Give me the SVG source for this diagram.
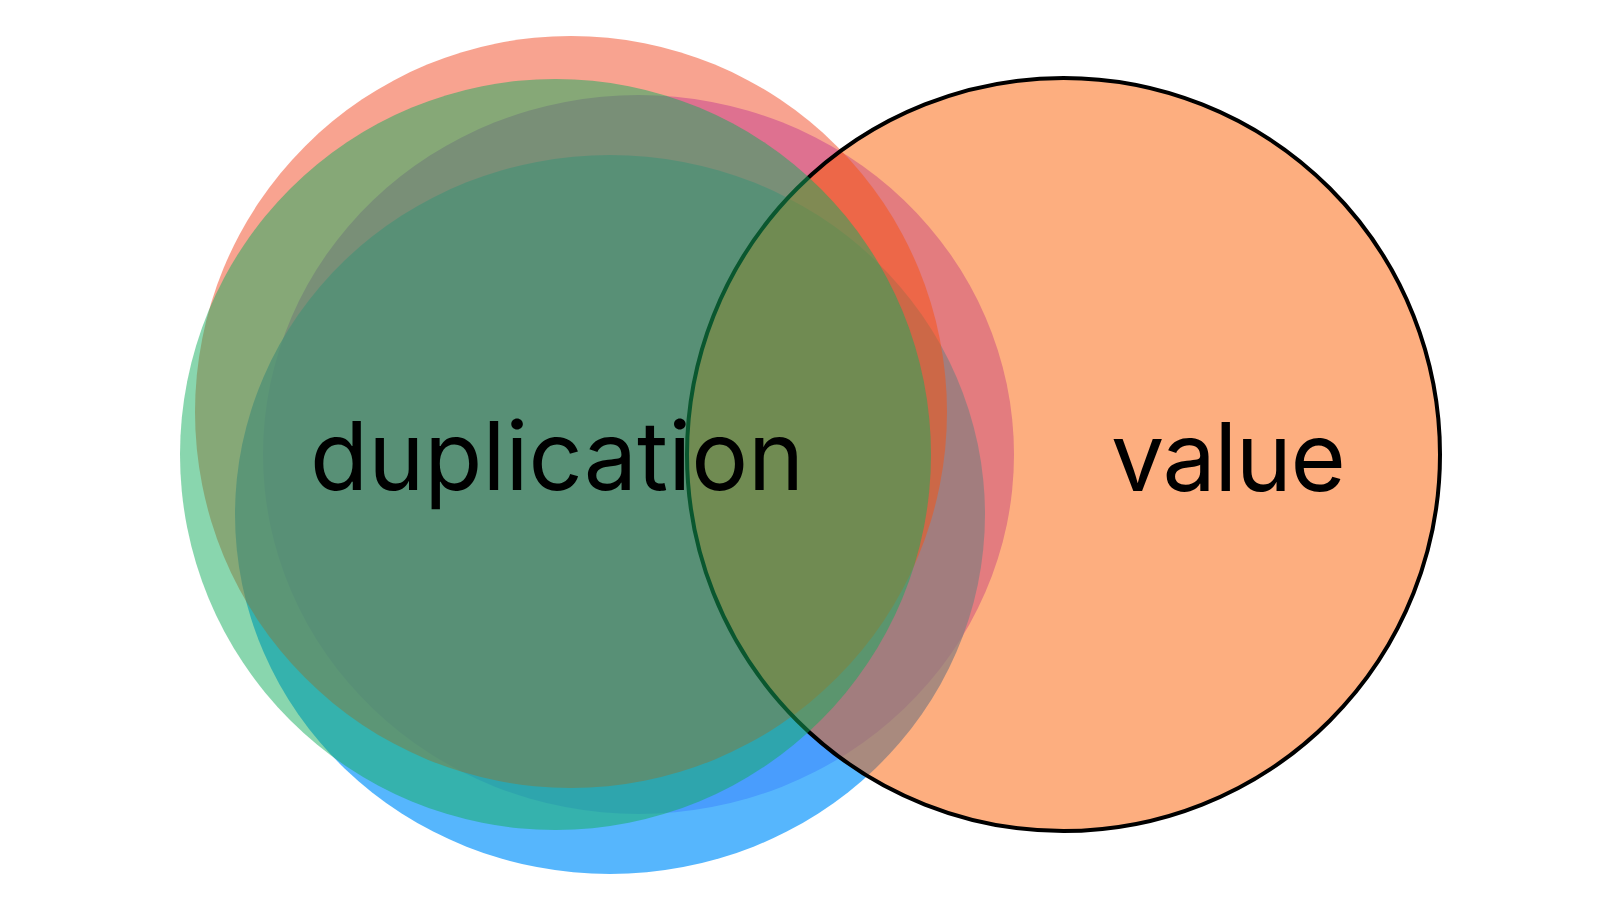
<svg xmlns="http://www.w3.org/2000/svg" width="1600" height="900" viewBox="0 0 1600 900">
  <style>
    .label { font-family: Inter, "Noto Sans", "Liberation Sans", sans-serif; font-size: 95px; fill: #000000; }
  </style>
  <rect x="0" y="0" width="1600" height="900" fill="#ffffff"/>
  <g id="set-c">
    <ellipse cx="638.5" cy="454.5" rx="375.5" ry="359.5" fill="#9535FF" fill-opacity="0.5"/>
  </g>
  <g id="set-d">
    <ellipse cx="610" cy="514.5" rx="375" ry="359.5" fill="#1E9EFC" fill-opacity="0.75"/>
  </g>
  <g id="set-a">
    <circle cx="571" cy="412" r="376" fill="#F24822" fill-opacity="0.5"/>
  </g>
  <g id="value">
    <circle cx="1063.5" cy="454.5" r="376.5" fill="#FC5D00" fill-opacity="0.5" stroke="#000000" stroke-width="4"/>
  </g>
  <g id="set-b">
    <circle cx="555.5" cy="454.5" r="375.5" fill="#13AD5D" fill-opacity="0.5"/>
  </g>
  <g id="labels">
    <text class="label" x="310" y="490">duplication</text>
    <text class="label" x="1111" y="491" letter-spacing="-1.5">value</text>
  </g>
</svg>
